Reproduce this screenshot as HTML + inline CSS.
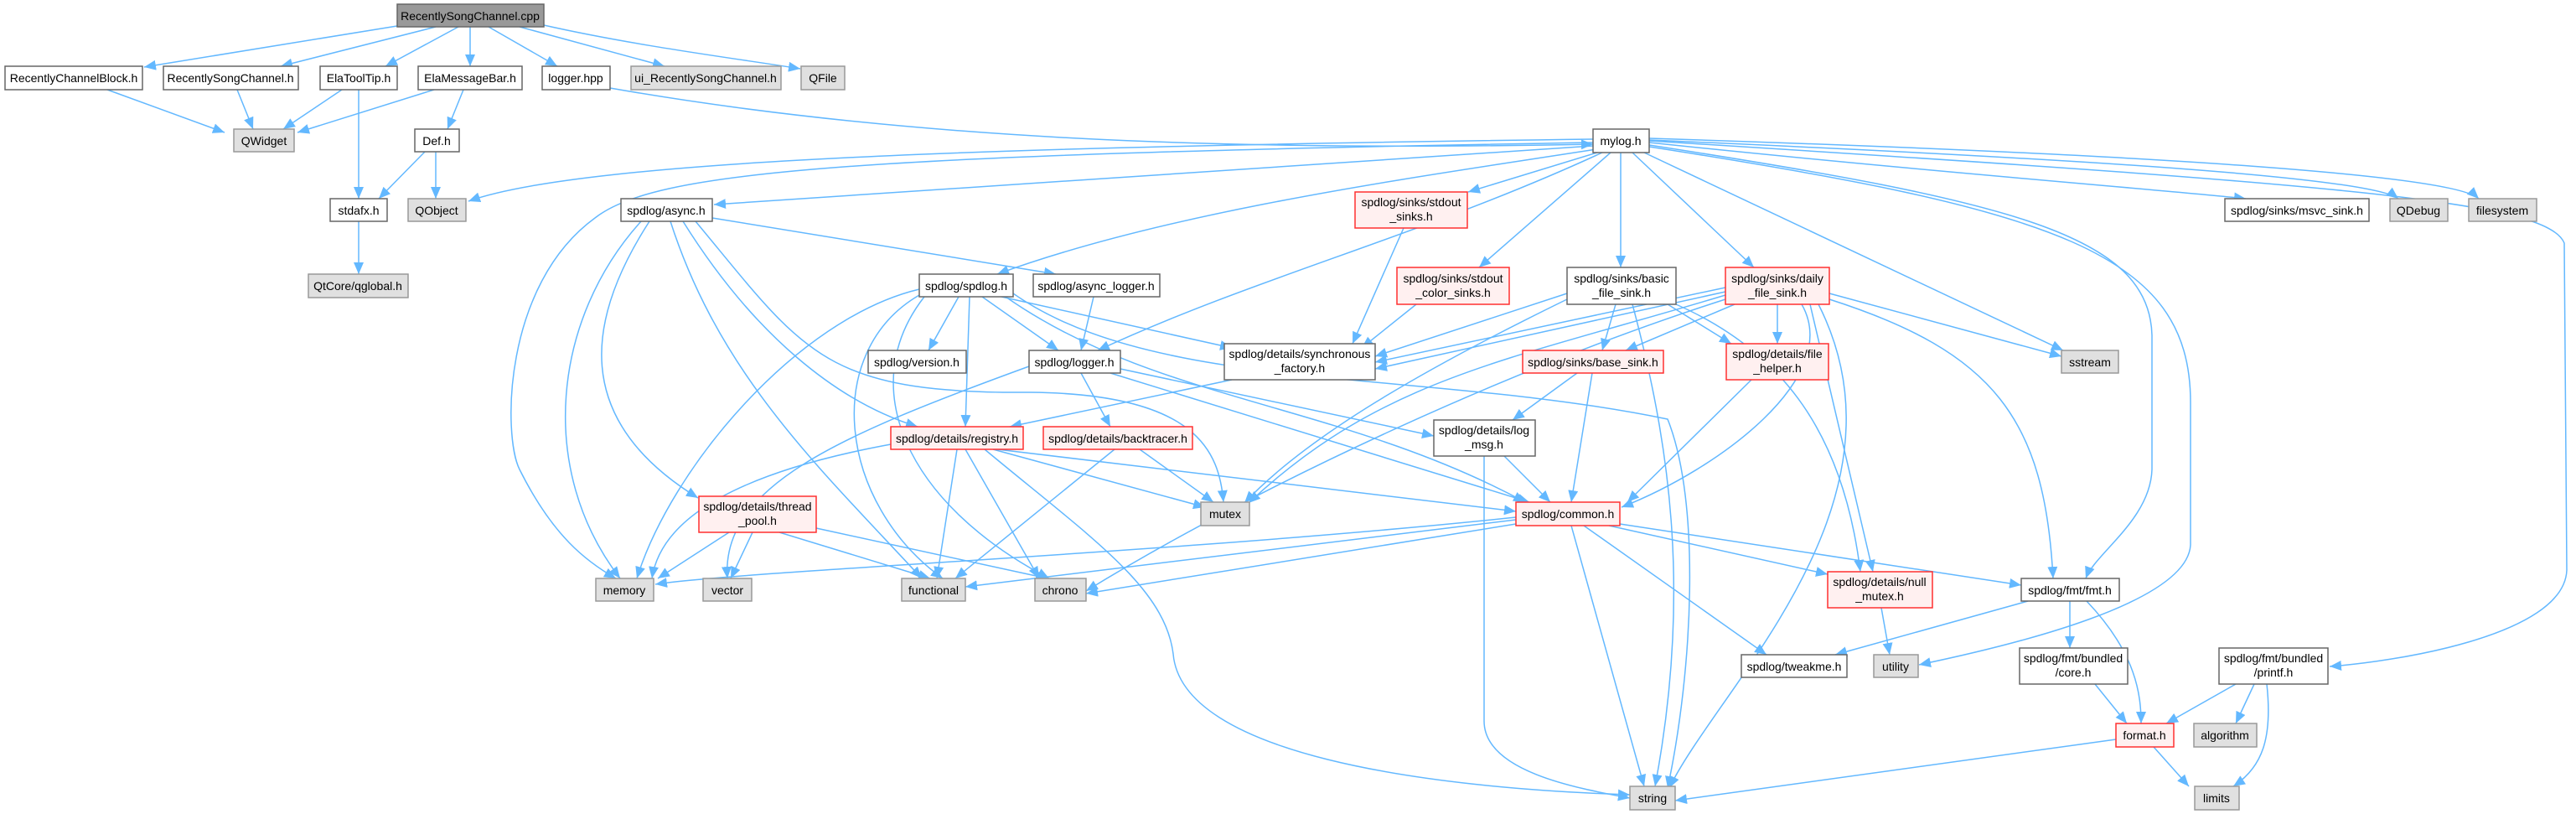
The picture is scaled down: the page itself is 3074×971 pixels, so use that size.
<!DOCTYPE html>
<html><head><meta charset="utf-8"><style>
html,body{margin:0;padding:0;background:#fff;}
svg{display:block;}
text{font-family:"Liberation Sans",sans-serif;font-size:14px;fill:#000;text-anchor:middle;}
.e{fill:none;stroke:#63b8ff;stroke-width:1.5;marker-end:url(#a);}
.n{fill:#fff;stroke:#666;stroke-width:1.5;}
.r{fill:#fff0f0;stroke:#ff3030;stroke-width:1.5;}
.g{fill:#e0e0e0;stroke:#999;stroke-width:1.5;}
.c{fill:#999;stroke:#666;stroke-width:1.5;}
</style></head><body>
<svg width="3074" height="971" viewBox="0 0 3074 971" xmlns="http://www.w3.org/2000/svg">
<defs><marker id="a" markerUnits="userSpaceOnUse" markerWidth="16" markerHeight="12" refX="14" refY="6" orient="auto"><path d="M0,0 L14,6 L0,12 z" fill="#63b8ff"/></marker></defs>
<g>
<!-- cpp edges -->
<path class="e" d="M480,30 L172,80"/>
<path class="e" d="M520,32 L335,79"/>
<path class="e" d="M547,32 L460,79"/>
<path class="e" d="M561,32 L561,79"/>
<path class="e" d="M583,32 L665,79"/>
<path class="e" d="M620,32 L793,79"/>
<path class="e" d="M649,30 C760,55 880,70 955,82"/>
<path class="e" d="M128,107 L268,158"/>
<path class="e" d="M283,107 L302,154"/>
<path class="e" d="M408,107 L338,154"/>
<path class="e" d="M518,107 L355,158"/>
<path class="e" d="M428,107 L428,237"/>
<path class="e" d="M553,107 L534,154"/>
<path class="e" d="M507,181 L452,237"/>
<path class="e" d="M520,181 L520,237"/>
<path class="e" d="M428,264 L428,327"/>
<path class="e" d="M728,105 C1100,170 1500,180 1901,172"/>
<!-- mylog edges -->
<path class="e" d="M1901,166 C1200,175 700,190 559,240"/>
<path class="e" d="M1901,170 C1000,185 780,205 710,260 C600,340 600,520 620,560 C660,640 700,670 735,690"/>
<path class="e" d="M1901,174 L852,244"/>
<path class="e" d="M1905,178 C1700,210 1400,250 1190,327"/>
<path class="e" d="M1912,182 C1700,280 1500,330 1310,418"/>
<path class="e" d="M1906,182 L1752,229"/>
<path class="e" d="M1922,182 L1765,319"/>
<path class="e" d="M1934,182 L1934,319"/>
<path class="e" d="M1948,182 L2093,319"/>
<path class="e" d="M1962,182 L2462,418"/>
<path class="e" d="M1968,170 C2300,205 2600,228 2680,237"/>
<path class="e" d="M1968,167 C2500,190 2830,212 2862,237"/>
<path class="e" d="M1968,165 C2600,185 2930,210 2958,237"/>
<path class="e" d="M1968,173 C2400,240 2565,280 2568,400 L2568,560 C2566,620 2500,660 2489,690"/>
<path class="e" d="M1968,175 C2450,250 2614,300 2614,480 L2614,650 C2610,720 2400,770 2290,793"/>
<path class="e" d="M1968,168 C2800,220 3040,240 3060,290 L3063,680 C3060,760 2850,790 2780,795"/>
<!-- async.h -->
<path class="e" d="M850,260 L1260,327"/>
<path class="e" d="M815,264 C900,400 1000,480 1095,509"/>
<path class="e" d="M775,264 C700,380 680,500 833,594"/>
<path class="e" d="M765,264 C660,380 640,560 740,690"/>
<path class="e" d="M800,264 C860,450 980,560 1100,690"/>
<path class="e" d="M830,264 C960,420 980,470 1230,468 C1430,470 1455,540 1460,599"/>
<!-- spdlog.h -->
<path class="e" d="M1144,354 L1108,418"/>
<path class="e" d="M1172,354 L1263,418"/>
<path class="e" d="M1157,354 L1152,509"/>
<path class="e" d="M1195,354 L1470,415"/>
<path class="e" d="M1097,345 C950,380 800,560 760,690"/>
<path class="e" d="M1097,352 C980,420 1000,600 1125,690"/>
<path class="e" d="M1103,354 C1020,460 1080,600 1252,690"/>
<path class="e" d="M1200,354 C1380,480 1600,480 1820,599"/>
<path class="e" d="M1209,350 C1380,470 1700,440 1990,500 C2030,600 2020,800 1990,940"/>
<path class="e" d="M1305,354 L1290,418"/>
<!-- logger.h -->
<path class="e" d="M1290,445 L1325,509"/>
<path class="e" d="M1337,440 L1711,520"/>
<path class="e" d="M1325,445 L1825,599"/>
<path class="e" d="M1228,437 C1000,520 860,580 868,690"/>
<path class="e" d="M1470,453 L1205,509"/>
<!-- registry -->
<path class="e" d="M1063,530 C900,560 790,610 778,690"/>
<path class="e" d="M1142,536 L1118,690"/>
<path class="e" d="M1152,536 L1240,690"/>
<path class="e" d="M1185,536 L1438,605"/>
<path class="e" d="M1190,536 L1809,610"/>
<path class="e" d="M1175,536 C1300,640 1390,700 1400,780 C1410,900 1700,940 1945,948"/>
<path class="e" d="M1330,536 L1140,690"/>
<path class="e" d="M1360,536 L1448,599"/>
<!-- thread_pool -->
<path class="e" d="M870,635 L785,690"/>
<path class="e" d="M898,635 L872,690"/>
<path class="e" d="M930,635 L1110,690"/>
<path class="e" d="M974,630 L1250,690"/>
<!-- sinks -->
<path class="e" d="M1675,272 L1614,410"/>
<path class="e" d="M1690,363 L1625,415"/>
<path class="e" d="M1870,350 L1641,425"/>
<path class="e" d="M1928,363 L1912,418"/>
<path class="e" d="M1990,363 L2066,410"/>
<path class="e" d="M1870,357 C1700,440 1560,520 1485,600"/>
<path class="e" d="M1948,363 C1990,520 2020,700 1975,938"/>
<path class="e" d="M2000,363 C2130,420 2200,520 2220,682"/>
<path class="e" d="M2059,343 L1641,432"/>
<path class="e" d="M2059,348 L1641,440"/>
<path class="e" d="M2070,363 L1940,418"/>
<path class="e" d="M2121,363 L2121,410"/>
<path class="e" d="M2150,363 C2200,450 2050,560 1935,605"/>
<path class="e" d="M2059,352 C1800,430 1650,450 1490,600"/>
<path class="e" d="M2059,357 C1800,440 1500,580 1296,705"/>
<path class="e" d="M2160,363 L2235,682"/>
<path class="e" d="M2170,363 C2290,600 2050,820 1992,940"/>
<path class="e" d="M2183,350 L2460,425"/>
<path class="e" d="M2183,357 C2380,420 2440,500 2450,690"/>
<path class="e" d="M1882,445 L1805,501"/>
<path class="e" d="M1900,445 L1875,599"/>
<path class="e" d="M2090,453 L1942,599"/>
<path class="e" d="M1795,544 L1850,599"/>
<path class="e" d="M1771,544 L1771,860 C1771,920 1880,940 1945,952"/>
<!-- common.h -->
<path class="e" d="M1809,617 C1400,660 900,680 782,697"/>
<path class="e" d="M1809,620 L1152,700"/>
<path class="e" d="M1809,625 L1296,708"/>
<path class="e" d="M1875,627 L1962,938"/>
<path class="e" d="M1890,627 L2108,781"/>
<path class="e" d="M1920,627 L2181,685"/>
<path class="e" d="M1933,625 L2412,698"/>
<path class="e" d="M2245,725 L2255,781"/>
<path class="e" d="M2420,717 L2190,781"/>
<path class="e" d="M2470,717 L2470,773"/>
<path class="e" d="M2490,717 C2550,780 2555,830 2555,863"/>
<path class="e" d="M2500,816 L2538,863"/>
<path class="e" d="M2668,816 L2585,863"/>
<path class="e" d="M2690,816 L2668,863"/>
<path class="e" d="M2705,816 C2712,880 2700,915 2665,938"/>
<path class="e" d="M2525,882 L1999,955"/>
<path class="e" d="M2570,891 L2612,938"/>
</g>
<g>
<rect class="c" x="474" y="5" width="175" height="27"/><text x="561" y="24">RecentlySongChannel.cpp</text>
<rect class="n" x="6" y="79" width="164" height="28"/><text x="88" y="98">RecentlyChannelBlock.h</text>
<rect class="n" x="195" y="79" width="161" height="28"/><text x="275" y="98">RecentlySongChannel.h</text>
<rect class="n" x="382" y="79" width="92" height="28"/><text x="428" y="98">ElaToolTip.h</text>
<rect class="n" x="499" y="79" width="124" height="28"/><text x="561" y="98">ElaMessageBar.h</text>
<rect class="n" x="647" y="79" width="81" height="28"/><text x="687" y="98">logger.hpp</text>
<rect class="g" x="753" y="79" width="179" height="28"/><text x="842" y="98">ui_RecentlySongChannel.h</text>
<rect class="g" x="956" y="79" width="52" height="28"/><text x="982" y="98">QFile</text>
<rect class="g" x="279" y="154" width="72" height="27"/><text x="315" y="173">QWidget</text>
<rect class="n" x="495" y="154" width="53" height="27"/><text x="521" y="173">Def.h</text>
<rect class="n" x="1901" y="154" width="67" height="28"/><text x="1934" y="173">mylog.h</text>
<rect class="n" x="394" y="237" width="68" height="27"/><text x="428" y="256">stdafx.h</text>
<rect class="g" x="487" y="237" width="69" height="27"/><text x="521" y="256">QObject</text>
<rect class="n" x="741" y="237" width="109" height="27"/><text x="795" y="256">spdlog/async.h</text>
<rect class="r" x="1617" y="229" width="134" height="43"/><text x="1684" y="246">spdlog/sinks/stdout</text><text x="1684" y="263">_sinks.h</text>
<rect class="n" x="2655" y="237" width="172" height="27"/><text x="2741" y="256">spdlog/sinks/msvc_sink.h</text>
<rect class="g" x="2852" y="237" width="69" height="27"/><text x="2886" y="256">QDebug</text>
<rect class="g" x="2946" y="237" width="81" height="27"/><text x="2986" y="256">filesystem</text>
<rect class="g" x="368" y="327" width="119" height="28"/><text x="427" y="346">QtCore/qglobal.h</text>
<rect class="n" x="1097" y="327" width="112" height="27"/><text x="1153" y="346">spdlog/spdlog.h</text>
<rect class="n" x="1233" y="327" width="151" height="27"/><text x="1308" y="346">spdlog/async_logger.h</text>
<rect class="r" x="1667" y="319" width="134" height="44"/><text x="1734" y="337">spdlog/sinks/stdout</text><text x="1734" y="354">_color_sinks.h</text>
<rect class="n" x="1870" y="319" width="130" height="44"/><text x="1935" y="337">spdlog/sinks/basic</text><text x="1935" y="354">_file_sink.h</text>
<rect class="r" x="2059" y="319" width="124" height="44"/><text x="2121" y="337">spdlog/sinks/daily</text><text x="2121" y="354">_file_sink.h</text>
<rect class="n" x="1036" y="418" width="117" height="27"/><text x="1094" y="437">spdlog/version.h</text>
<rect class="n" x="1228" y="418" width="109" height="27"/><text x="1282" y="437">spdlog/logger.h</text>
<rect class="n" x="1461" y="410" width="180" height="43"/><text x="1551" y="427">spdlog/details/synchronous</text><text x="1551" y="444">_factory.h</text>
<rect class="r" x="1817" y="418" width="168" height="27"/><text x="1901" y="437">spdlog/sinks/base_sink.h</text>
<rect class="r" x="2060" y="410" width="122" height="43"/><text x="2121" y="427">spdlog/details/file</text><text x="2121" y="444">_helper.h</text>
<rect class="g" x="2460" y="418" width="68" height="27"/><text x="2494" y="437">sstream</text>
<rect class="r" x="1063" y="509" width="158" height="27"/><text x="1142" y="528">spdlog/details/registry.h</text>
<rect class="r" x="1245" y="509" width="178" height="27"/><text x="1334" y="528">spdlog/details/backtracer.h</text>
<rect class="n" x="1711" y="501" width="121" height="43"/><text x="1771" y="518">spdlog/details/log</text><text x="1771" y="535">_msg.h</text>
<rect class="r" x="834" y="592" width="140" height="43"/><text x="904" y="609">spdlog/details/thread</text><text x="904" y="626">_pool.h</text>
<rect class="g" x="1433" y="599" width="58" height="28"/><text x="1462" y="618">mutex</text>
<rect class="r" x="1809" y="599" width="124" height="28"/><text x="1871" y="618">spdlog/common.h</text>
<rect class="r" x="2181" y="682" width="125" height="43"/><text x="2243" y="699">spdlog/details/null</text><text x="2243" y="716">_mutex.h</text>
<rect class="n" x="2412" y="690" width="117" height="27"/><text x="2470" y="709">spdlog/fmt/fmt.h</text>
<rect class="g" x="711" y="690" width="69" height="27"/><text x="745" y="709">memory</text>
<rect class="g" x="839" y="690" width="58" height="27"/><text x="868" y="709">vector</text>
<rect class="g" x="1076" y="690" width="76" height="27"/><text x="1114" y="709">functional</text>
<rect class="g" x="1235" y="690" width="61" height="27"/><text x="1265" y="709">chrono</text>
<rect class="n" x="2078" y="781" width="126" height="27"/><text x="2141" y="800">spdlog/tweakme.h</text>
<rect class="g" x="2236" y="781" width="53" height="27"/><text x="2262" y="800">utility</text>
<rect class="n" x="2410" y="773" width="129" height="43"/><text x="2474" y="790">spdlog/fmt/bundled</text><text x="2474" y="807">/core.h</text>
<rect class="n" x="2648" y="773" width="130" height="43"/><text x="2713" y="790">spdlog/fmt/bundled</text><text x="2713" y="807">/printf.h</text>
<rect class="r" x="2525" y="863" width="69" height="28"/><text x="2559" y="882">format.h</text>
<rect class="g" x="2618" y="863" width="75" height="28"/><text x="2655" y="882">algorithm</text>
<rect class="g" x="1945" y="938" width="54" height="28"/><text x="1972" y="957">string</text>
<rect class="g" x="2619" y="938" width="53" height="28"/><text x="2645" y="957">limits</text>
</g>
</svg>
</body></html>
